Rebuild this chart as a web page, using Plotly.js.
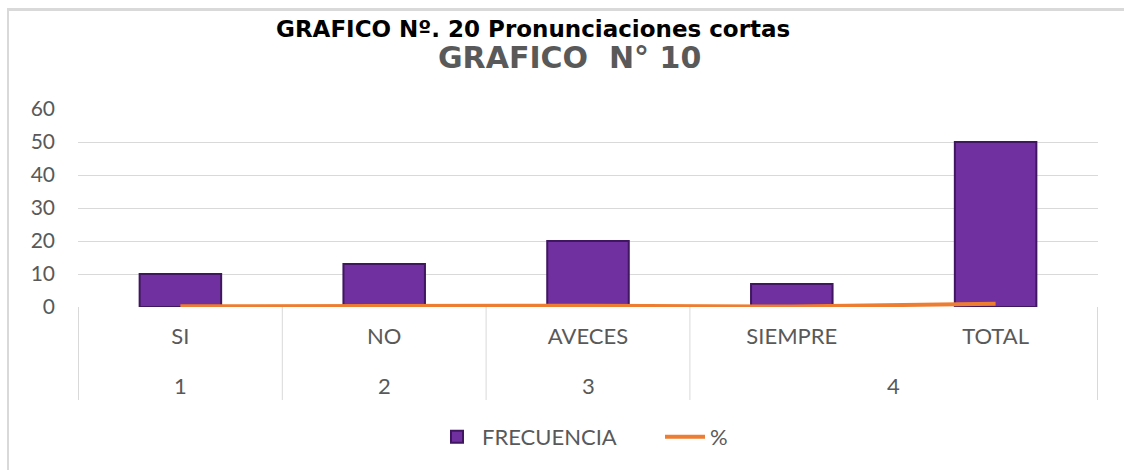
<!DOCTYPE html>
<html>
<head>
<meta charset="utf-8">
<script src="https://cdn.plot.ly/plotly-3.0.1.min.js"></script>
<style>
html,body{margin:0;padding:0;background:#fff;}
#frame{position:absolute;left:7px;top:8px;width:1117px;height:462px;border-left:2px solid #d9d9d9;border-top:3px solid #d9d9d9;box-sizing:border-box;}
#chart{position:absolute;left:0;top:0;width:1124px;height:470px;}
</style>
</head>
<body>
<div id="chart"></div>
<div id="frame"></div>
<script>
const groups = ['1', '2', '3', '4', '4'];
const categories = ['SI', 'NO', 'AVECES', 'SIEMPRE', 'TOTAL'];
const frecuencia = [10, 13, 20, 7, 50];
const porcentaje = [0.2, 0.26, 0.4, 0.14, 1];
const yTicks = [0, 10, 20, 30, 40, 50, 60];

const gray = '#595959';
const grid = '#d9d9d9';
const plotH = 198; // px of plot area (for paper offsets)

// group spans (outer category level)
const spans = [];
groups.forEach((g, i) => {
  const last = spans[spans.length - 1];
  if (last && last.name === g) last.end = i; else spans.push({name: g, start: i, end: i});
});

const shapes = [];
const boundaries = new Set([-0.5]);
spans.forEach(s => boundaries.add(s.end + 0.5));
boundaries.forEach(b => shapes.push({
  type: 'line', xref: 'x', yref: 'paper',
  x0: b, x1: b, y0: 0, y1: -(400 - 307) / plotH,
  line: {color: grid, width: 1}
}));

const annotations = spans.map(s => ({
  text: s.name,
  xref: 'x', yref: 'paper',
  x: (s.start + s.end) / 2, y: -(385 - 307) / plotH,
  xanchor: 'center', yanchor: 'middle',
  showarrow: false,
  font: {family: 'Lato, sans-serif', size: 22, color: gray}
}));

annotations.push(
  {
    text: '<b>GRAFICO Nº. 20 Pronunciaciones cortas</b>',
    xref: 'paper', yref: 'paper',
    x: (533 - 78) / 1020, y: 1 + (109 - 29) / plotH,
    xanchor: 'center', yanchor: 'middle',
    showarrow: false,
    font: {family: '"DejaVu Sans", sans-serif', size: 23, color: '#000000'}
  },
  {
    text: '<b>GRAFICO  N° 10</b>',
    xref: 'paper', yref: 'paper',
    x: (569 - 78) / 1020, y: 1 + (109 - 57) / plotH,
    xanchor: 'center', yanchor: 'middle',
    showarrow: false,
    font: {family: '"DejaVu Sans", sans-serif', size: 30, color: gray}
  }
);

const traces = [
  {
    type: 'bar',
    name: 'FRECUENCIA',
    x: categories,
    y: frecuencia,
    marker: {color: '#7030a0', line: {color: '#3f165f', width: 2}},
    hoverinfo: 'skip'
  },
  {
    type: 'scatter',
    mode: 'lines',
    name: '%',
    x: categories,
    y: porcentaje,
    line: {color: '#ed7d31', width: 4},
    hoverinfo: 'skip'
  }
];

const layout = {
  width: 1124,
  height: 470,
  margin: {l: 78, r: 26, t: 109, b: 163},
  paper_bgcolor: '#ffffff',
  plot_bgcolor: '#ffffff',
  bargap: 0.6,
  showlegend: true,
  legend: {
    orientation: 'h',
    x: (660 - 78) / 1020, xanchor: 'center',
    y: -(437 - 307) / plotH, yanchor: 'middle',
    font: {family: 'Lato, sans-serif', size: 22, color: gray},
    itemwidth: 40,
    entrywidth: 173,
    entrywidthmode: 'pixels',
    tracegroupgap: 0
  },
  xaxis: {
    type: 'category',
    categoryorder: 'array',
    categoryarray: categories,
    tickfont: {family: 'Lato, sans-serif', size: 22, color: gray},
    showgrid: false,
    showline: false,
    zeroline: false,
    ticks: '',
    ticklabelstandoff: 14
  },
  yaxis: {
    range: [0, 60],
    tickvals: yTicks,
    ticktext: yTicks.map(String),
    tickfont: {family: 'Lato, sans-serif', size: 21, color: gray},
    gridcolor: grid,
    gridwidth: 1,
    zeroline: false,
    showline: false,
    ticklabelstandoff: 22
  },
  shapes: shapes,
  annotations: annotations
};

Plotly.newPlot('chart', traces, layout, {displayModeBar: false, staticPlot: true});
</script>
</body>
</html>
